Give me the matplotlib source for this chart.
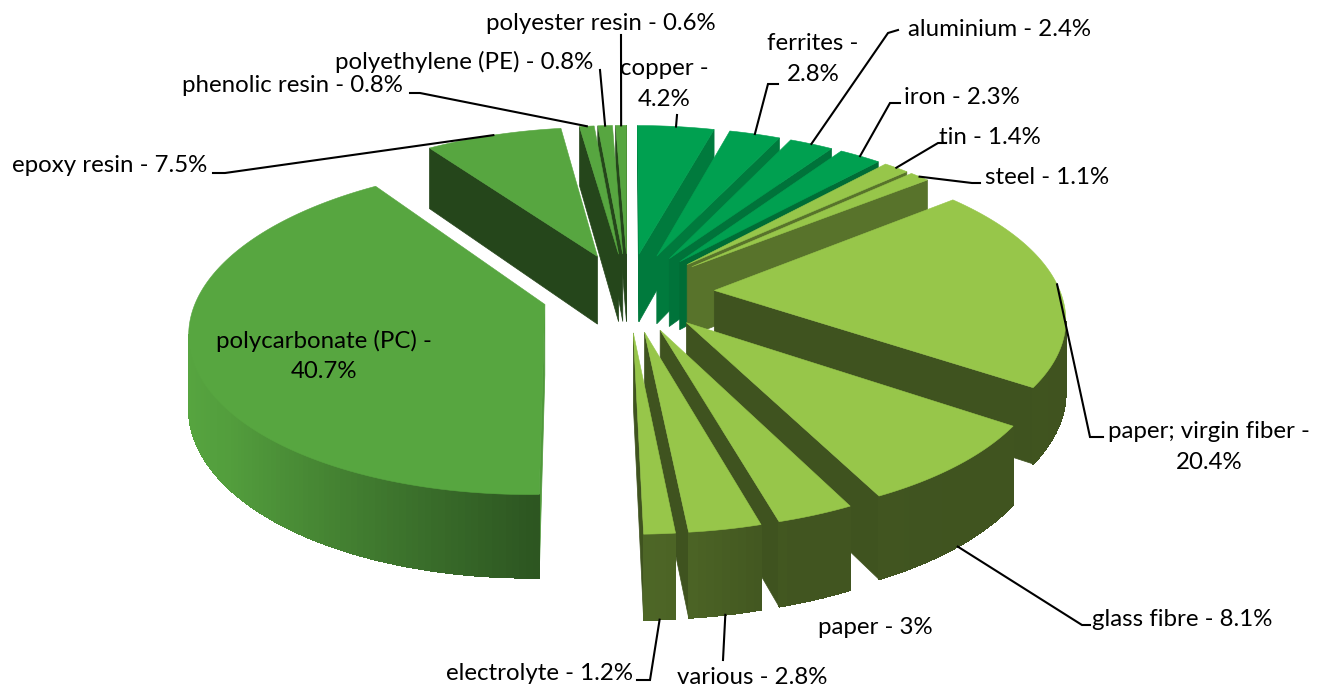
import numpy as np
import matplotlib
matplotlib.use('Agg')
import matplotlib.pyplot as plt
from matplotlib.patches import Polygon

plt.rcParams['font.family'] = ['Lato', 'DejaVu Sans']

# Data (percent, clockwise from the top)
materials = ['copper', 'ferrites', 'aluminium', 'iron', 'tin', 'steel',
             'paper; virgin fiber', 'glass fibre', 'paper', 'various',
             'electrolyte', 'polycarbonate (PC)', 'epoxy resin',
             'phenolic resin', 'polyethylene (PE)', 'polyester resin']
shares = [4.2, 2.8, 2.4, 2.3, 1.4, 1.1, 20.4, 8.1, 3, 2.8, 1.2, 40.7, 7.5, 0.8, 0.8, 0.6]

GREEN = '#00a050'
LIGHT = '#97c64a'
MID = '#57a640'
slice_colors = [GREEN] * 4 + [LIGHT] * 7 + [MID] * 5
wall_shades = [0.76, 0.76, 0.72, 0.68, 0.58, 0.58, 0.42, 0.42, 0.42, 0.42, 0.42,
               0.42, 0.42, 0.42, 0.42, 0.42]

# Fake 3D camera, in pixels of the final image
CX, CY = 628, 292
RX, RY, DEPTH = 346, 158, 70
PERSP = 0.148
EXPLODE = 0.25


def project(x, y, z):
    s = 1 / (1 + PERSP * np.asarray(y))
    return CX + RX * np.asarray(x) * s, CY - RY * np.asarray(y) * s - DEPTH * np.asarray(z) * s


def shade(color, f):
    r, g, b = matplotlib.colors.to_rgb(color)
    return (r * f, g * f, b * f)


def rim_shade(u):
    return np.interp(u, [-1, -0.8, 0, 0.1, 0.3, 1], [1.0, 0.95, 0.52, 0.5, 0.43, 0.42])


def signed_area(xs, ys):
    return 0.5 * np.sum(xs * np.roll(ys, -1) - np.roll(xs, -1) * ys)


def add_face(ax, pts3d, color, smooth=True):
    xs, ys = project(*np.array(pts3d).T)
    # faces are wound so that visible ones come out positive on the flipped y axis
    if signed_area(xs, ys) <= 0:
        return
    ax.add_patch(Polygon(np.c_[xs, ys], closed=True, facecolor=color, edgecolor=color,
                         lw=0.5, antialiased=smooth))


fig = plt.figure(figsize=(13.28, 6.86), dpi=100)
ax = fig.add_axes([0, 0, 1, 1])
ax.set_xlim(0, 1328)
ax.set_ylim(686, 0)
ax.axis('off')

edges = np.cumsum([0] + shares) / sum(shares) * 2 * np.pi
slices = []
for i, val in enumerate(shares):
    mid = (edges[i] + edges[i + 1]) / 2
    slices.append((i, edges[i], edges[i + 1], EXPLODE * np.sin(mid), EXPLODE * np.cos(mid)))

# far slices first
for i, t0, t1, ox, oy in sorted(slices, key=lambda s: -(np.cos((s[1] + s[2]) / 2))):
    col = slice_colors[i]
    th = np.linspace(t0, t1, max(4, int((t1 - t0) * 60)))
    rx = ox + np.sin(th)
    ry = oy + np.cos(th)
    wall = shade(col, wall_shades[i])
    # start wall
    start_col = shade(col, 0.92) if i == 11 else wall
    add_face(ax, [(rx[0], ry[0], 0), (ox, oy, 0), (ox, oy, -1), (rx[0], ry[0], -1)], start_col)
    # end wall
    add_face(ax, [(ox, oy, 0), (rx[-1], ry[-1], 0), (rx[-1], ry[-1], -1), (ox, oy, -1)], wall)
    # outer rim in small strips so the shading can vary
    for j in range(len(th) - 1):
        u = np.sin((th[j] + th[j + 1]) / 2)
        add_face(ax, [(rx[j + 1], ry[j + 1], 0), (rx[j], ry[j], 0), (rx[j], ry[j], -1),
                      (rx[j + 1], ry[j + 1], -1)], shade(col, rim_shade(u)), smooth=False)
    tx, ty = project(np.r_[ox, rx], np.r_[oy, ry], np.zeros(len(th) + 1))
    ax.add_patch(Polygon(np.c_[tx, ty], closed=True, facecolor=col, edgecolor=col, lw=0.4))

# Labels: text, position, alignment
label_texts = ['copper -\n4.2%', 'ferrites -\n2.8%', 'aluminium - 2.4%', 'iron - 2.3%', 'tin - 1.4%',
               'steel - 1.1%', 'paper; virgin fiber -\n20.4%', 'glass fibre - 8.1%', 'paper - 3%',
               'various - 2.8%', 'electrolyte - 1.2%', 'polycarbonate (PC) -\n40.7%',
               'epoxy resin - 7.5%', 'phenolic resin - 0.8%', 'polyethylene (PE) - 0.8%',
               'polyester resin - 0.6%']
label_xy = [(664, 84), (813, 59), (999, 29), (962, 98), (990, 138), (1047, 178), (1209, 447),
            (1182, 620), (875, 627), (752, 678), (540, 673), (324, 356), (110, 165),
            (292, 86), (464, 62), (601, 23)]
# elbows of the leader lines; the first point is taken from the slice rim
leader_paths = [[(677, 115)], [(768, 84), (778, 84)], [(888, 33), (898, 30)], [(890, 103), (900, 103)],
                [(938, 143), (946, 143)], [(972, 183), (980, 183)], [(1090, 437), (1103, 437)],
                [(1082, 625), (1090, 625)], None, [(723, 660)], [(650, 680), (637, 680)], None,
                [(225, 173), (213, 173)], [(420, 93), (410, 93)], [(600, 70)], [(621, 35)]]
leader_depth = [0, 0, 0, 0, 0, 0, 0, -1, 0, -1, -1, 0, 0, 0, 0, 0]

for i, t0, t1, ox, oy in slices:
    x, y = label_xy[i]
    ax.text(x, y, label_texts[i], ha='center', va='center', fontsize=17.3, color='black', linespacing=1.55, zorder=5)
    if leader_paths[i] is None:
        continue
    mid = (t0 + t1) / 2
    sx, sy = project(ox + np.sin(mid), oy + np.cos(mid), leader_depth[i])
    px = [float(sx)] + [p[0] for p in leader_paths[i]]
    py = [float(sy)] + [p[1] for p in leader_paths[i]]
    ax.plot(px, py, color='black', lw=1.5, zorder=4, solid_joinstyle='miter')

fig.savefig('out.png', dpi=100)
